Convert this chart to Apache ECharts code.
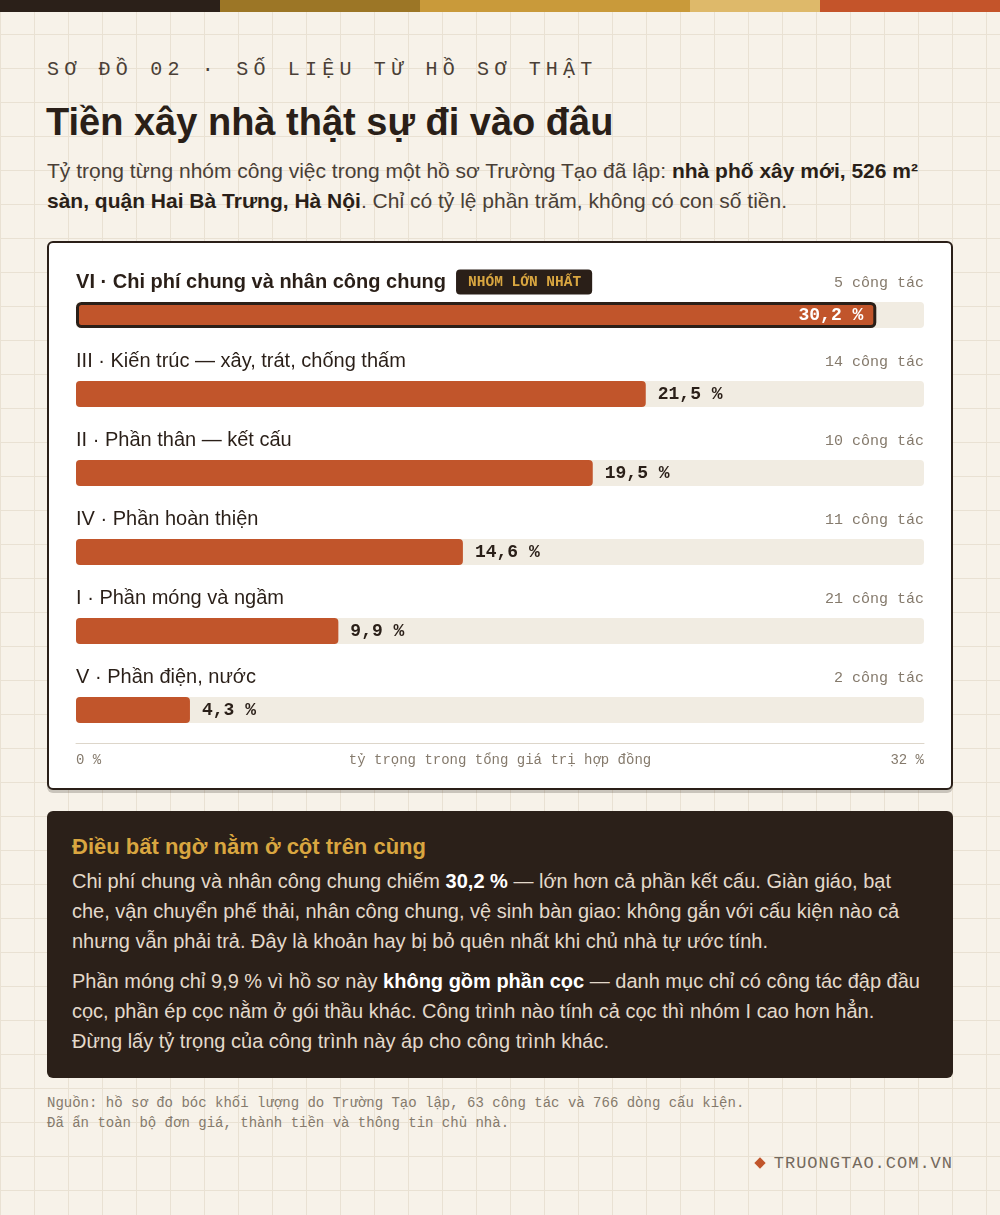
<!DOCTYPE html>
<html lang="vi">
<head>
<meta charset="utf-8">
<script src="https://cdn.jsdelivr.net/npm/echarts@6/dist/echarts.min.js"></script>
<style>
  html, body { margin: 0; padding: 0; }
  body {
    width: 1000px; height: 1215px; position: relative; overflow: hidden;
    background-color: #f7f2e9;
    background-image:
      linear-gradient(to right, #e9e1d3 1px, transparent 1px),
      linear-gradient(to bottom, #e9e1d3 1px, transparent 1px);
    background-size: 34px 34px;
    font-family: "Liberation Sans", Arial, sans-serif;
    color: #2a1f18;
  }
  .stripes { position: absolute; left: 0; top: 0; width: 1000px; height: 12px; display: flex; }
  .stripes div { height: 12px; }
  .eyebrow {
    position: absolute; left: 47px; top: 58px; font-family: "Liberation Mono", monospace;
    font-size: 20px; line-height: 24px; letter-spacing: 5.2px; color: #4a3f36; white-space: nowrap;
  }
  h1 {
    position: absolute; left: 46px; top: 98px; margin: 0; font-size: 38px; line-height: 48px;
    font-weight: 700; letter-spacing: 0; color: #2a1f18; white-space: nowrap;
  }
  .sub {
    position: absolute; left: 47px; top: 156px; width: 906px; margin: 0; font-size: 21px; line-height: 30px;
    color: #4a3f36;
  }
  .sub b { color: #2a1f18; }
  .card {
    position: absolute; left: 47px; top: 241px; width: 902px; height: 545px;
    border: 2px solid #2a1f18; border-radius: 6px; background: #ffffff;
    box-shadow: 0 3px 0 rgba(42,31,24,0.22);
  }
  #chart { position: absolute; left: 0; top: 0; width: 902px; height: 545px; }
  .note {
    position: absolute; left: 47px; top: 811px; width: 906px; height: 267px; box-sizing: border-box;
    background: #2b2019; border-radius: 6px; padding: 21px 25px 0 25px; color: #e3d9cb;
  }
  .note h2 { margin: 0 0 4px 0; font-size: 22px; line-height: 30px; color: #d9a640; font-weight: 700; }
  .note p { margin: 0 0 10px 0; font-size: 20px; line-height: 30px; white-space: nowrap; }
  .note b { color: #ffffff; }
  .src {
    position: absolute; left: 47px; top: 1093px; font-family: "Liberation Mono", monospace;
    font-size: 14px; line-height: 20px; color: #857a6c; white-space: nowrap;
  }
  .brand {
    position: absolute; right: 47px; top: 1152px; font-family: "Liberation Mono", monospace;
    font-size: 17px; line-height: 24px; letter-spacing: 1px; color: #74695d; white-space: nowrap;
  }
  .brand i {
    display: inline-block; width: 8px; height: 8px; background: #c1552b; transform: rotate(45deg);
    margin-right: 10px; vertical-align: 1px;
  }
</style>
</head>
<body>
<div class="stripes">
  <div style="width:220px;background:#2b2019"></div>
  <div style="width:200px;background:#9c7626"></div>
  <div style="width:270px;background:#c99a3a"></div>
  <div style="width:130px;background:#deb96a"></div>
  <div style="width:180px;background:#c4542a"></div>
</div>
<div class="eyebrow">SƠ ĐỒ 02 · SỐ LIỆU TỪ HỒ SƠ THẬT</div>
<h1>Tiền xây nhà thật sự đi vào đâu</h1>
<p class="sub">Tỷ trọng từng nhóm công việc trong một hồ sơ Trường Tạo đã lập: <b>nhà phố xây mới, 526 m² sàn, quận Hai Bà Trưng, Hà Nội</b>. Chỉ có tỷ lệ phần trăm, không có con số tiền.</p>
<div class="card"><div id="chart"></div></div>
<div class="note">
  <h2>Điều bất ngờ nằm ở cột trên cùng</h2>
  <p>Chi phí chung và nhân công chung chiếm <b>30,2 %</b> — lớn hơn cả phần kết cấu. Giàn giáo, bạt<br>che, vận chuyển phế thải, nhân công chung, vệ sinh bàn giao: không gắn với cấu kiện nào cả<br>nhưng vẫn phải trả. Đây là khoản hay bị bỏ quên nhất khi chủ nhà tự ước tính.</p>
  <p>Phần móng chỉ 9,9 % vì hồ sơ này <b>không gồm phần cọc</b> — danh mục chỉ có công tác đập đầu<br>cọc, phần ép cọc nằm ở gói thầu khác. Công trình nào tính cả cọc thì nhóm I cao hơn hẳn.<br>Đừng lấy tỷ trọng của công trình này áp cho công trình khác.</p>
</div>
<div class="src">Nguồn: hồ sơ đo bóc khối lượng do Trường Tạo lập, 63 công tác và 766 dòng cấu kiện.<br>Đã ẩn toàn bộ đơn giá, thành tiền và thông tin chủ nhà.</div>
<div class="brand"><i></i>TRUONGTAO.COM.VN</div>

<script>
const categories = [
  'VI · Chi phí chung và nhân công chung',
  'III · Kiến trúc — xây, trát, chống thấm',
  'II · Phần thân — kết cấu',
  'IV · Phần hoàn thiện',
  'I · Phần móng và ngầm',
  'V · Phần điện, nước'
];
const shares = [30.2, 21.5, 19.5, 14.6, 9.9, 4.3];
const taskCounts = [5, 14, 10, 11, 21, 2];
const axisTicks = [0, 32];
const badgeText = 'NHÓM LỚN NHẤT';
const axisTitle = 'tỷ trọng trong tổng giá trị hợp đồng';

const MONO = '"Liberation Mono", monospace';
const SANS = '"Liberation Sans", Arial, sans-serif';
const DARK = '#2a1f18';
const ORANGE = '#c1552b';
const fmt = v => v.toFixed(1).replace('.', ',') + ' %';
const maxIdx = shares.indexOf(Math.max(...shares));

const chart = echarts.init(document.getElementById('chart'), null, { renderer: 'canvas' });

chart.setOption({
  animation: false,
  grid: { left: 27, right: 27, top: 32.5, bottom: 38.5, containLabel: false, outerBoundsMode: 'none' },
  xAxis: {
    type: 'value', min: axisTicks[0], max: axisTicks[1], interval: axisTicks[1] - axisTicks[0],
    offset: -6.5,
    axisLine: { show: true, lineStyle: { color: '#ddd6ca', width: 1 } },
    axisTick: { show: false },
    splitLine: { show: false },
    axisLabel: {
      formatter: v => v + ' %', color: '#857a6c', fontFamily: MONO, fontSize: 14, margin: 10,
      alignMinLabel: 'left', alignMaxLabel: 'right'
    },
    name: axisTitle, nameLocation: 'middle', nameGap: 10, nameMoveOverlap: false,
    nameTextStyle: { color: '#857a6c', fontFamily: MONO, fontSize: 14, verticalAlign: 'top' }
  },
  yAxis: {
    type: 'category', data: categories, inverse: true, show: false
  },
  series: [
    {
      type: 'bar', barWidth: 26, z: 2,
      showBackground: true,
      backgroundStyle: { color: '#f1ece2', borderRadius: 4 },
      itemStyle: { color: ORANGE, borderRadius: 4 },
      label: {
        show: true, position: 'right', distance: 12, formatter: p => fmt(p.value),
        color: DARK, fontFamily: MONO, fontWeight: 'bold', fontSize: 18
      },
      data: shares.map((v, i) => i === maxIdx ? {
        value: v,
        itemStyle: { borderColor: DARK, borderWidth: 3 },
        label: { position: 'insideRight', distance: 13, color: '#ffffff' }
      } : v)
    },
    {
      type: 'scatter', symbolSize: 0.1, z: 3, silent: true,
      itemStyle: { color: 'transparent', opacity: 1 },
      label: {
        show: true, position: 'right', distance: 0, offset: [0, -33],
        formatter: p => p.dataIndex === maxIdx
          ? '{hb|' + categories[p.dataIndex] + '}{gap|}{badge|' + badgeText + '}'
          : '{h|' + categories[p.dataIndex] + '}',
        rich: {
          h: { fontFamily: SANS, fontSize: 20, color: DARK, fontWeight: 'normal' },
          hb: { fontFamily: SANS, fontSize: 20, color: DARK, fontWeight: 'bold' },
          gap: { width: 10 },
          badge: {
            fontFamily: MONO, fontSize: 14.5, fontWeight: 'bold', color: '#d9a640',
            backgroundColor: DARK, borderRadius: 4, padding: [5, 11, 5, 12]
          }
        }
      },
      data: categories.map((c, i) => [axisTicks[0], i])
    },
    {
      type: 'scatter', symbolSize: 0.1, z: 3, silent: true,
      itemStyle: { color: 'transparent', opacity: 1 },
      label: {
        show: true, position: 'left', distance: 0, offset: [0, -32],
        formatter: p => taskCounts[p.dataIndex] + ' công tác',
        color: '#857a6c', fontFamily: MONO, fontSize: 15
      },
      data: categories.map((c, i) => [axisTicks[1], i])
    }
  ]
});
</script>
</body>
</html>
